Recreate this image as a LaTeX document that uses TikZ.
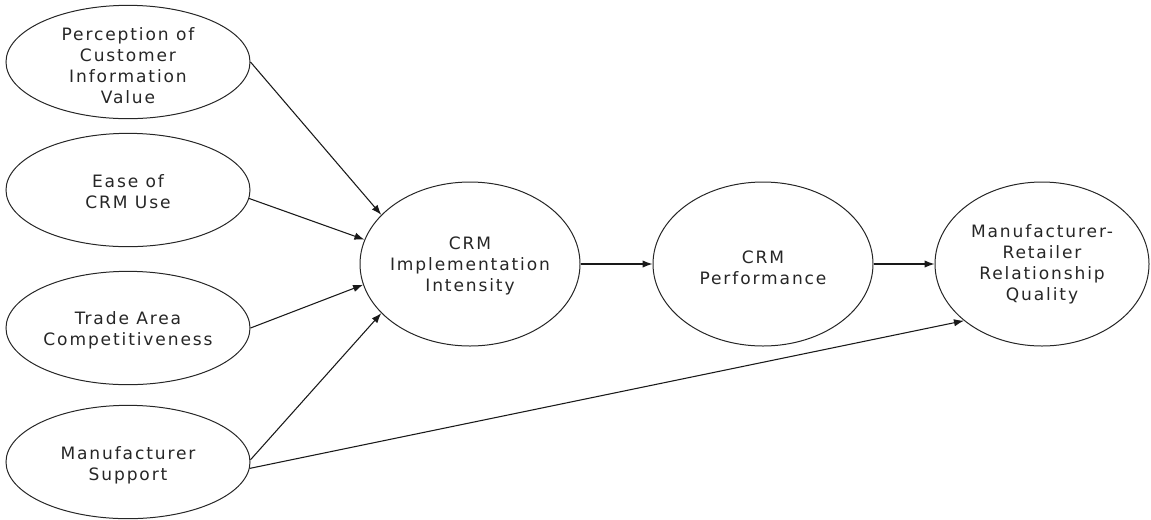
\documentclass[tikz,border=0pt]{standalone}
\usepackage{fontspec}
\setmainfont{DejaVu Sans}[LetterSpace=11]
\usetikzlibrary{shapes.geometric,arrows.meta}
\begin{document}
\begin{tikzpicture}[x=0.75pt,y=-0.75pt,
  ell/.style={draw=black!85, line width=0.75pt, ellipse, inner sep=0pt},
  small/.style={minimum width=183pt, minimum height=85pt},
  big/.style={minimum width=165pt, minimum height=123pt},
  lbl/.style={align=center, font=\fontsize{12.8pt}{15.75pt}\selectfont, text=black!85, inner sep=0pt},
  arr/.style={draw=black!90, line width=0.8pt, -{Latex[length=7.5pt,width=5.5pt]}}]
\useasboundingbox (0,0) rectangle (1151,519);
% left ellipses
\node[ell, small] (e1) at (128,62) {};
\node[ell, small] (e2) at (128,190) {};
\node[ell, small] (e3) at (128,328) {};
\node[ell, small] (e4) at (128,462) {};
% right ellipses
\node[ell, big] (c1) at (470,264) {};
\node[ell, big] (c2) at (763,264) {};
\node[ell, big, minimum width=160.5pt] (c3) at (1042,264) {};
% labels
\node[lbl] (t1) at (128,66) {Perception of\\Customer\\Information\\Value};
\node[lbl] (t2) at (128,192) {Ease of\\CRM Use};
\node[lbl] (t3) at (128,330) {Trade Area\\Competitiveness};
\node[lbl] (t4) at (128,465) {Manufacturer\\Support};
\node[lbl] (t5) at (470,266) {CRM\\Implementation\\Intensity};
\node[lbl] (t6) at (763,268) {CRM\\Performance};
\node[lbl] (t7) at (1042,264) {Manufacturer-\\Retailer\\Relationship\\Quality};
% connectors
\draw[arr] (e1.east) -- (c1.151);
\draw[arr] (e2.-4) -- (c1.167);
\draw[arr] (e3.east) -- (c1.191);
\draw[arr] (e4.1) -- (c1.209);
\draw[arr] (e4.-3) -- (c3.216);
\draw[arr] (c1.east) -- (c2.west);
\draw[arr] (c2.east) -- (c3.west);
\end{tikzpicture}
\end{document}
